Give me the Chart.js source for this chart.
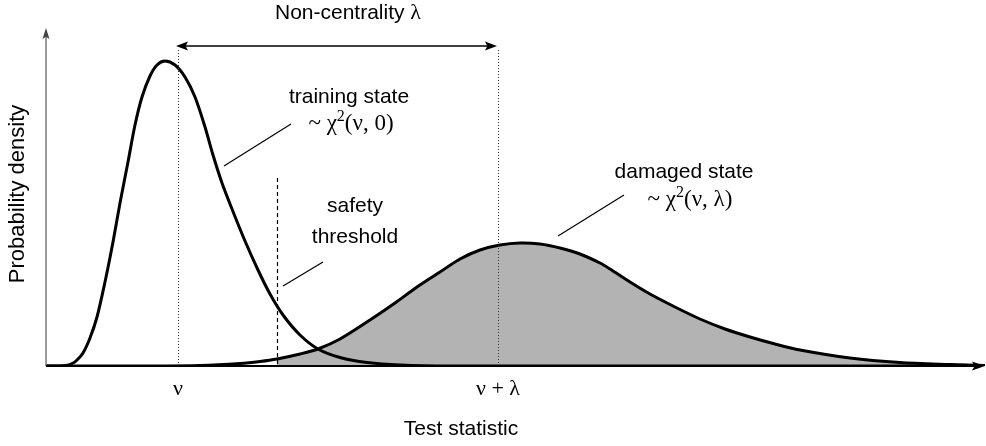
<!DOCTYPE html>
<html><head><meta charset="utf-8">
<script src="https://cdn.jsdelivr.net/npm/chart.js@4"></script>
<style>html,body{margin:0;padding:0;background:#fff;overflow:hidden}#wrap{width:986px;height:446px}</style>
</head><body><div id="wrap"><canvas id="c" width="986" height="446"></canvas></div>
<script>
// ---- data (x: test statistic, y: probability density, arbitrary units) ----
const trainingX = [0, 1.4, 2.0, 2.6, 3.0, 3.7, 4.4, 5.1, 5.9, 6.7, 7.4, 8.2, 8.9, 9.6, 10.4, 11.1, 11.9, 12.9, 13.9, 14.9, 15.9, 16.7, 17.6, 18.6, 19.9, 21.2, 22.4, 23.7, 25.4, 27.2, 29.4, 32.1, 35.4, 40.4, 93.9];
const trainingY = [0, 0, 0.005, 0.025, 0.05, 0.13, 0.28, 0.49, 0.84, 1.24, 1.63, 2.04, 2.41, 2.69, 2.90, 3.01, 3.05, 3.01, 2.89, 2.69, 2.39, 2.11, 1.83, 1.57, 1.25, 0.96, 0.72, 0.51, 0.31, 0.17, 0.085, 0.035, 0.01, 0, 0];
const damagedX = [0, 10.4, 15.4, 19.4, 21.4, 23.1, 25.4, 27.2, 29.4, 32.4, 34.9, 37.1, 39.4, 41.4, 43.4, 45.4, 47.4, 49.4, 51.4, 53.4, 55.4, 56.4, 58.4, 60.4, 62.9, 65.4, 67.9, 70.4, 72.9, 75.4, 80.4, 85.4, 90.4, 93.9];
const damagedY = [0, 0, 0.005, 0.025, 0.045, 0.07, 0.12, 0.17, 0.27, 0.46, 0.63, 0.79, 0.94, 1.07, 1.16, 1.21, 1.23, 1.22, 1.18, 1.12, 1.03, 0.97, 0.84, 0.72, 0.59, 0.47, 0.37, 0.29, 0.22, 0.16, 0.08, 0.035, 0.015, 0.005];
const nu = 13.2;
const nuPlusLambda = 45.2;
const threshold = 23.1;
const xTickValues = [nu, nuPlusLambda];
const xTickLabels = ['ν', 'ν + λ'];
const xTitle = 'Test statistic';
const yTitle = 'Probability density';
const arrowLabel = ['Non-centrality ', 'λ'];
const trainingLabel = ['training state', ['~ χ', '2', '(ν, 0)']];
const damagedLabel = ['damaged state', ['~ χ', '2', '(ν, λ)']];
const thresholdLabel = ['safety', 'threshold'];

const X_MAX = 93.9, Y_MAX = 3.38;
const toPts = (xs, ys) => xs.map((x, i) => ({x, y: ys[i]}));
const shadedPts = toPts(damagedX, damagedY).filter(p => p.x >= threshold);

const SANS = '"Liberation Sans", Arial, sans-serif';
const SERIF = '"Liberation Serif", "Times New Roman", serif';
const SANS_PX = 21, MATH_PX = 23;

function mathText(ctx, cx, base, segs, size) {
  const f = size + 'px ' + SERIF, fs = Math.round(size * 0.68) + 'px ' + SERIF;
  ctx.save();
  ctx.font = f; const w0 = ctx.measureText(segs[0]).width;
  ctx.font = fs; const w1 = ctx.measureText(segs[1]).width;
  ctx.font = f; const w2 = ctx.measureText(segs[2]).width;
  let x = cx - (w0 + w1 + w2) / 2;
  ctx.textAlign = 'left'; ctx.textBaseline = 'alphabetic'; ctx.fillStyle = '#000';
  ctx.font = f; ctx.fillText(segs[0], x, base); x += w0;
  ctx.font = fs; ctx.fillText(segs[1], x, base - size * 0.4); x += w1;
  ctx.font = f; ctx.fillText(segs[2], x, base);
  ctx.restore();
}
function line(ctx, x1, y1, x2, y2, w, col, dash) {
  ctx.save(); ctx.beginPath(); ctx.lineWidth = w; ctx.strokeStyle = col; ctx.setLineDash(dash || []);
  ctx.moveTo(x1, y1); ctx.lineTo(x2, y2); ctx.stroke(); ctx.restore();
}
function head(ctx, tx, ty, dx, dy, len, hw, col) {
  const px = -dy, py = dx;
  ctx.save(); ctx.fillStyle = col; ctx.beginPath();
  ctx.moveTo(tx, ty);
  ctx.lineTo(tx - dx * len + px * hw, ty - dy * len + py * hw);
  ctx.lineTo(tx - dx * len * 0.8, ty - dy * len * 0.8);
  ctx.lineTo(tx - dx * len - px * hw, ty - dy * len - py * hw);
  ctx.closePath(); ctx.fill(); ctx.restore();
}
function centered(ctx, txt, x, y, font) {
  ctx.save(); ctx.font = font; ctx.textAlign = 'center'; ctx.textBaseline = 'alphabetic';
  ctx.fillStyle = '#000'; ctx.fillText(txt, x, y); ctx.restore();
}

const decor = {
  id: 'decor',
  afterDatasetsDraw(chart) {
    const {ctx, chartArea: a, scales: {x, y}} = chart;
    const X = v => x.getPixelForValue(v), Y = v => y.getPixelForValue(v);
    const y0 = Y(0);
    const sans = SANS_PX + 'px ' + SANS;
    // reference lines
    const topArrow = 46;
    xTickValues.forEach(v => line(ctx, Math.round(X(v)) + 0.5, topArrow + 4, Math.round(X(v)) + 0.5, y0, 1, '#333', [1, 2]));
    line(ctx, Math.round(X(threshold)) + 0.5, 178, Math.round(X(threshold)) + 0.5, y0, 1.2, '#000', [4, 3]);
    // non-centrality arrow
    const xa = X(nu) - 2, xb = X(nuPlusLambda) - 1;
    line(ctx, xa + 8, topArrow, xb - 8, topArrow, 1.3, '#000');
    head(ctx, xa, topArrow, -1, 0, 12, 4.5, '#000');
    head(ctx, xb, topArrow, 1, 0, 12, 4.5, '#000');
    // axes
    line(ctx, a.left, y0, a.left, a.top + 8, 1.5, '#7a7a7a');
    head(ctx, a.left, a.top, 0, -1, 11, 3.5, '#444');
    line(ctx, a.left, y0, a.right - 8, y0, 2.2, '#000');
    head(ctx, a.right, y0, 1, 0, 13, 4.5, '#000');
    // leader lines
    line(ctx, 224, 166, 291, 124, 1.2, '#000');
    line(ctx, 283, 286, 323, 262, 1.2, '#000');
    line(ctx, 558, 236, 624, 195, 1.2, '#000');
    // arrow label (sans + serif lambda), centred as a whole
    ctx.save();
    ctx.font = sans; const w1 = ctx.measureText(arrowLabel[0]).width;
    ctx.font = (SANS_PX + 1) + 'px ' + SERIF; const w2 = ctx.measureText(arrowLabel[1]).width;
    const ax = 348 - (w1 + w2) / 2;
    ctx.textAlign = 'left'; ctx.textBaseline = 'alphabetic'; ctx.fillStyle = '#000';
    ctx.font = sans; ctx.fillText(arrowLabel[0], ax, 19);
    ctx.font = (SANS_PX + 1) + 'px ' + SERIF; ctx.fillText(arrowLabel[1], ax + w1, 19);
    ctx.restore();
    // annotations
    centered(ctx, trainingLabel[0], 349, 103, sans);
    mathText(ctx, 351, 130, trainingLabel[1], MATH_PX);
    centered(ctx, thresholdLabel[0], 355, 212, sans);
    centered(ctx, thresholdLabel[1], 355, 243, sans);
    centered(ctx, damagedLabel[0], 684, 178, sans);
    mathText(ctx, 690, 206, damagedLabel[1], MATH_PX);
    // ticks and titles
    xTickValues.forEach((v, i) => centered(ctx, xTickLabels[i], X(v), 395, '22px ' + SERIF));
    centered(ctx, xTitle, 461, 435, sans);
    ctx.save(); ctx.translate(24, 194); ctx.rotate(-Math.PI / 2);
    ctx.font = '22px ' + SANS; ctx.textAlign = 'center'; ctx.textBaseline = 'alphabetic'; ctx.fillStyle = '#000';
    ctx.fillText(yTitle, 0, 0); ctx.restore();
  }
};

new Chart(document.getElementById('c'), {
  type: 'line',
  data: {
    datasets: [
      {label: 'training state', data: toPts(trainingX, trainingY), borderColor: '#000', borderWidth: 3, pointRadius: 0, fill: false, tension: 0.3, order: 0},
      {label: 'damaged state', data: toPts(damagedX, damagedY), borderColor: '#000', borderWidth: 3, pointRadius: 0, fill: false, tension: 0.3, order: 1},
      {label: 'rejection area', data: shadedPts, borderWidth: 0, borderColor: 'rgba(0,0,0,0)', backgroundColor: '#b3b3b3', pointRadius: 0, fill: 'origin', tension: 0.3, order: 2}
    ]
  },
  options: {
    responsive: false, animation: false, events: [],
    layout: {padding: {left: 46, right: 1, top: 28, bottom: 80}},
    plugins: {legend: {display: false}, tooltip: {enabled: false}},
    scales: {
      x: {type: 'linear', min: 0, max: X_MAX, display: false},
      y: {type: 'linear', min: 0, max: Y_MAX, display: false}
    }
  },
  plugins: [decor]
});
</script></body></html>
